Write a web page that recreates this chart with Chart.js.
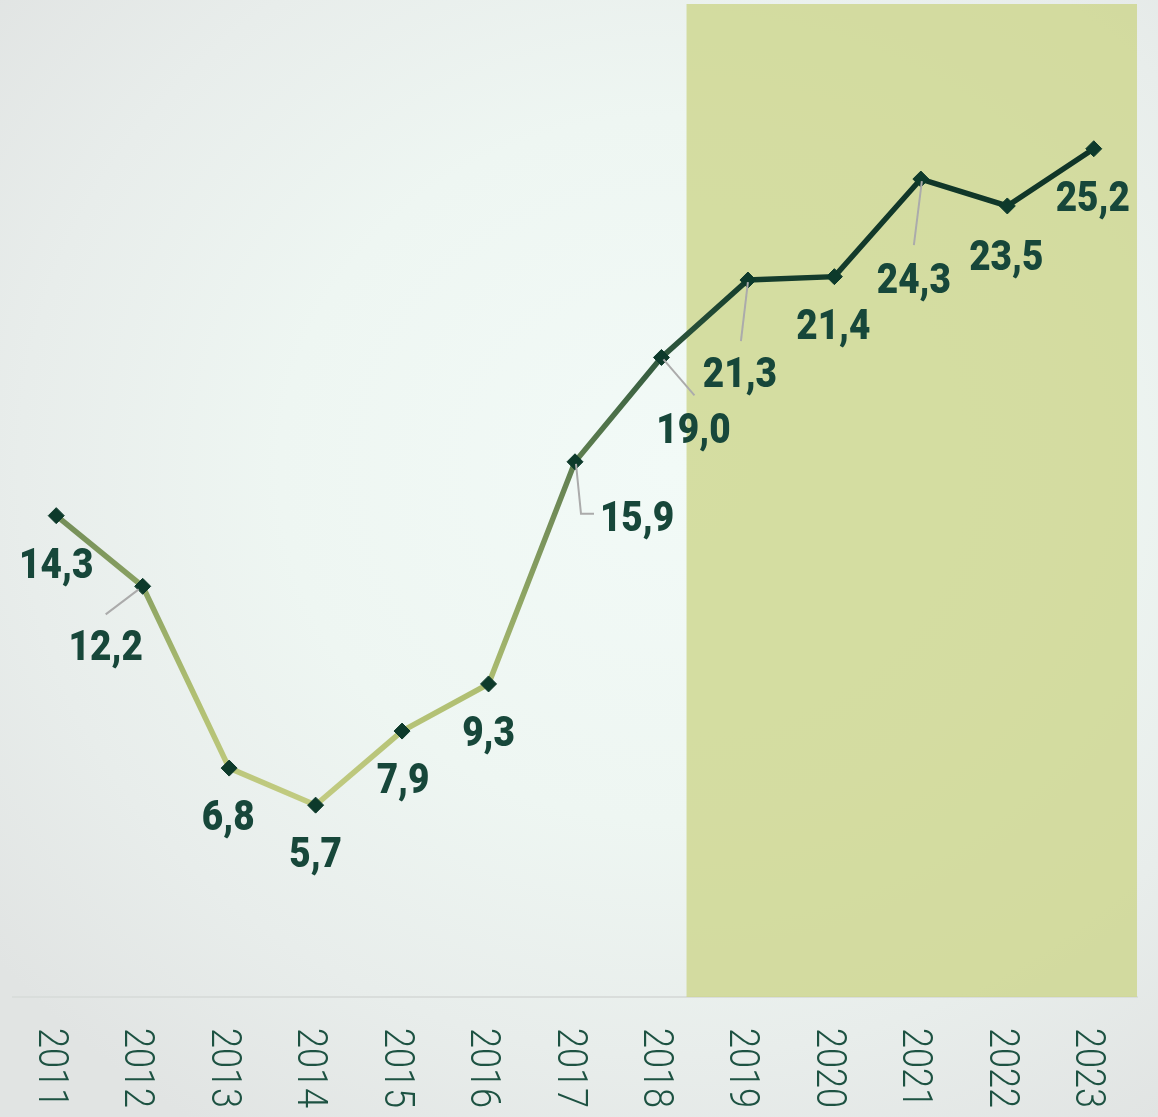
<!DOCTYPE html>
<html>
<head>
<meta charset="utf-8">
<script src="https://cdn.jsdelivr.net/npm/chart.js@4.4.1/dist/chart.umd.min.js"></script>
<style>
  html, body { margin: 0; padding: 0; }
  body {
    width: 1158px; height: 1117px; overflow: hidden;
    background: radial-gradient(ellipse 75% 70% at 58% 42%, #f2faf7 0%, #eef6f2 45%, #e8edeb 75%, #e1e4e3 100%);
  }
  canvas { display: block; }
</style>
</head>
<body>
<canvas id="grafico" width="1158" height="1117"></canvas>
<script>
// Datos
const anios = ['2011', '2012', '2013', '2014', '2015', '2016', '2017', '2018', '2019', '2020', '2021', '2022', '2023'];
const valores = [14.3, 12.2, 6.8, 5.7, 7.9, 9.3, 15.9, 19.0, 21.3, 21.4, 24.3, 23.5, 25.2];

// Zona resaltada (en índices de categoría)
const zonaDesde = 7.29;
const zonaHasta = 12.5;

// Posición de las etiquetas respecto al punto [dx, dy] y líneas guía opcionales
const etiquetaPos = [
    [0, 47], [-37, 59], [-1, 47], [0, 47], [1, 47], [0, 47],
    [62, 54], [32, 71], [-8, 92], [-1, 47], [-7, 99], [-1, 49], [-1, 47]
];
const guias = [
    null,
    [[-4, 3], [-37, 28]],
    null, null, null, null,
    [[1, 2], [6, 52], [19, 52]],
    [[2, 2], [33, 38]],
    [[0, 2], [-7, 61]],
    null,
    [[1, 2], [-7, 66]],
    null, null
];

const formato = v => v.toFixed(1).replace('.', ',');

// Fondo resaltado
const zonaPlugin = {
    id: 'zona',
    beforeDatasetsDraw(chart) {
        const { ctx, chartArea, scales } = chart;
        const x1 = scales.x.getPixelForValue(zonaDesde);
        const x2 = scales.x.getPixelForValue(zonaHasta);
        ctx.save();
        ctx.fillStyle = 'rgba(205, 214, 140, 0.8)';
        ctx.fillRect(x1, chartArea.top, x2 - x1, chartArea.bottom - chartArea.top);
        ctx.restore();
    }
};

// Etiquetas de valores y años
const etiquetasPlugin = {
    id: 'etiquetas',
    afterDatasetsDraw(chart) {
        const { ctx, scales } = chart;
        const meta = chart.getDatasetMeta(0);
        ctx.save();
        // líneas guía
        ctx.strokeStyle = '#ababab';
        ctx.lineWidth = 2;
        meta.data.forEach((pt, i) => {
            const g = guias[i];
            if (!g) return;
            ctx.beginPath();
            g.forEach(([dx, dy], k) => {
                if (k === 0) ctx.moveTo(pt.x + dx, pt.y + dy);
                else ctx.lineTo(pt.x + dx, pt.y + dy);
            });
            ctx.stroke();
        });
        // valores
        ctx.fillStyle = '#17473a';
        ctx.font = '900 42px Roboto';
        ctx.textAlign = 'center';
        ctx.textBaseline = 'alphabetic';
        meta.data.forEach((pt, i) => {
            const [dx, dy] = etiquetaPos[i];
            ctx.save();
            ctx.translate(pt.x + dx, pt.y + dy + 15);
            ctx.scale(0.88, 1);
            ctx.fillText(formato(valores[i]), 0, 0);
            ctx.restore();
        });
        // años (rotados)
        ctx.fillStyle = '#1d5242';
        ctx.font = '300 43px Roboto';
        ctx.textAlign = 'left';
        anios.forEach((a, i) => {
            const x = scales.x.getPixelForValue(i);
            ctx.save();
            ctx.translate(x - 2, chart.chartArea.bottom + 31);
            ctx.rotate(Math.PI / 2);
            ctx.scale(0.84, 1);
            ctx.fillText(a, 0, 15.5);
            ctx.restore();
        });
        ctx.restore();
    }
};

// Degradado de la línea según el valor
function colorLinea(context) {
    const chart = context.chart;
    const { ctx, chartArea, scales } = chart;
    if (!chartArea) return '#2d5a3c';
    const y = scales.y;
    const g = ctx.createLinearGradient(0, y.getPixelForValue(5), 0, y.getPixelForValue(26));
    const paradas = [
        [5.0, '#c6ce84'], [9.0, '#b0bf72'], [12.0, '#8da463'], [14.3, '#738d58'],
        [17.0, '#51744a'], [19.0, '#30583e'], [21.3, '#143c2c'], [26.0, '#0e3226']
    ];
    paradas.forEach(([v, c]) => g.addColorStop((v - 5) / 21, c));
    return g;
}

new Chart(document.getElementById('grafico'), {
    type: 'line',
    data: {
        labels: anios,
        datasets: [{
            data: valores,
            borderColor: colorLinea,
            borderWidth: 5.5,
            tension: 0,
            pointStyle: 'rectRot',
            pointRadius: 8,
            pointHoverRadius: 8,
            pointBackgroundColor: '#0d3a2b',
            pointBorderColor: '#0d3a2b',
            pointBorderWidth: 1
        }]
    },
    options: {
        responsive: false,
        animation: false,
        layout: { autoPadding: false, padding: { left: 13, right: 21, top: 4, bottom: 120 } },
        plugins: {
            legend: { display: false },
            tooltip: { enabled: false }
        },
        scales: {
            x: {
                offset: true,
                grid: { display: false, drawTicks: false },
                border: { display: true, color: '#d9dddb', width: 2 },
                ticks: { display: false }
            },
            y: {
                display: false,
                min: 0,
                max: 29.5
            }
        }
    },
    plugins: [zonaPlugin, etiquetasPlugin]
});
</script>
</body>
</html>
